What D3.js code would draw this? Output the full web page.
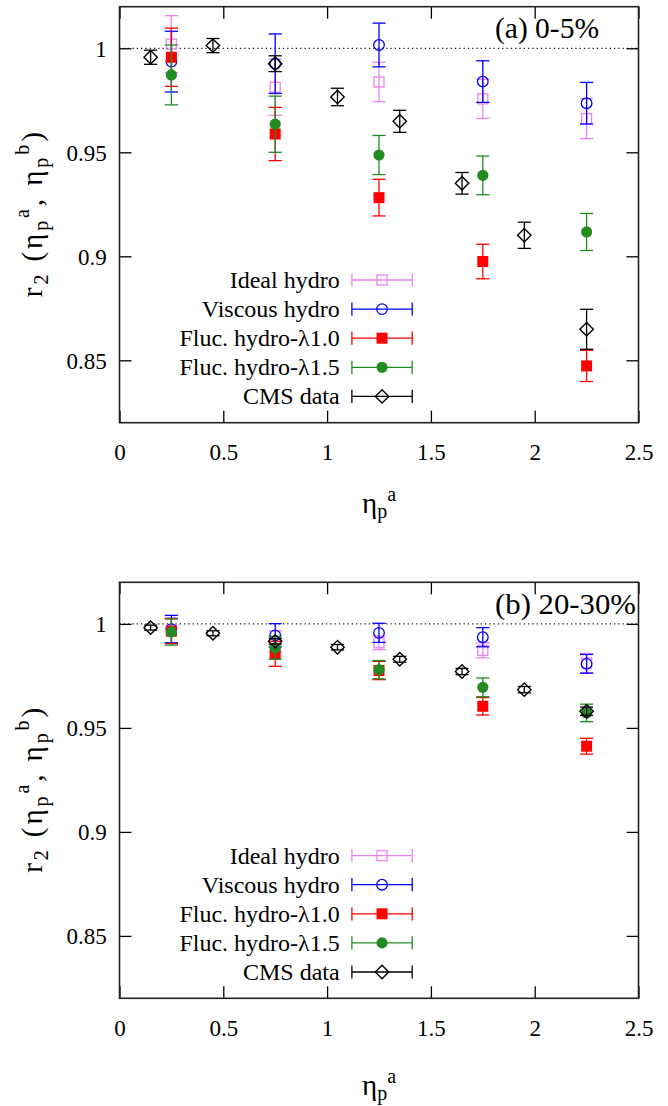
<!DOCTYPE html>
<html>
<head>
<meta charset="utf-8">
<script src="https://cdn.jsdelivr.net/npm/d3@7"></script>
<style>
  html, body { margin: 0; padding: 0; background: #fff; }
  svg { display: block; font-family: "Liberation Serif", "Times New Roman", serif; }
</style>
</head>
<body>
<svg id="chart" width="668" height="1106"></svg>
<script>
// ---------------- data ----------------
const etaModel = [0.25, 0.75, 1.25, 1.75, 2.25];
const etaCMS = [0.15, 0.45, 0.75, 1.05, 1.35, 1.65, 1.95, 2.25];

// panel (a) 0-5%
const idealA = [1.002, 0.9813, 0.9838, 0.9757, 0.9662];
const idealAErr = [0.0137, 0.0135, 0.0095, 0.0094, 0.0096];
const viscA = [0.9936, 0.9926, 1.0016, 0.984, 0.9736];
const viscAErr = [0.0146, 0.0143, 0.0105, 0.0100, 0.0100];
const fluc10A = [0.9957, 0.9588, 0.9282, 0.8975, 0.8473];
const fluc10AErr = [0.0140, 0.0128, 0.0088, 0.0083, 0.0075];
const fluc15A = [0.9872, 0.9635, 0.9487, 0.9389, 0.9117];
const fluc15AErr = [0.0144, 0.0135, 0.0094, 0.0093, 0.0089];
const cmsA = [0.9957, 1.0013, 0.9926, 0.9766, 0.9649, 0.9351, 0.9101, 0.8649];
const cmsAErr = [0.0034, 0.0034, 0.0038, 0.0042, 0.0053, 0.0052, 0.0063, 0.0096];

// panel (b) 20-30%
const idealB = [0.9970, 0.9916, 0.9909, 0.9873, 0.9812];
const idealBErr = [0.0060, 0.0050, 0.0033, 0.0036, 0.0046];
const viscB = [0.9975, 0.9945, 0.9957, 0.9936, 0.9808];
const viscBErr = [0.0066, 0.0056, 0.0046, 0.0046, 0.0045];
const fluc10B = [0.9965, 0.9856, 0.9776, 0.9604, 0.9412];
const fluc10BErr = [0.0060, 0.0060, 0.0044, 0.0042, 0.0038];
const fluc15B = [0.9961, 0.9885, 0.9780, 0.9695, 0.9572];
const fluc15BErr = [0.0063, 0.0055, 0.0044, 0.0045, 0.0042];
const cmsB = [0.9982, 0.9955, 0.9916, 0.9888, 0.9830, 0.9771, 0.9684, 0.9580];
const cmsBErr = [0.0012, 0.0012, 0.0013, 0.0013, 0.0014, 0.0015, 0.0015, 0.0020];

const seriesNames = ["Ideal hydro", "Viscous hydro", "Fluc. hydro-λ1.0", "Fluc. hydro-λ1.5", "CMS data"];
const panelTitles = ["(a) 0-5%", "(b) 20-30%"];
const xTicks = [0, 0.5, 1, 1.5, 2, 2.5];
const xTickLabels = ["0", "0.5", "1", "1.5", "2", "2.5"];
const yTicks = [0.85, 0.9, 0.95, 1];
const yTickLabels = ["0.85", "0.9", "0.95", "1"];

// ---------------- styles ----------------
const styles = [
  { color: "#ee82ee", sym: "sqOpen" },
  { color: "#0000ff", sym: "circOpen" },
  { color: "#ff0000", sym: "sqFill" },
  { color: "#228b22", sym: "circFill" },
  { color: "#000000", sym: "diamond" }
];

const panels = [
  { top: 6.7, title: panelTitles[0], titleLen: 104,
    series: [[etaModel, idealA, idealAErr], [etaModel, viscA, viscAErr], [etaModel, fluc10A, fluc10AErr], [etaModel, fluc15A, fluc15AErr], [etaCMS, cmsA, cmsAErr]],
    xlabelY: 513 },
  { top: 582.3, title: panelTitles[1], titleLen: 141,
    series: [[etaModel, idealB, idealBErr], [etaModel, viscB, viscBErr], [etaModel, fluc10B, fluc10BErr], [etaModel, fluc15B, fluc15BErr], [etaCMS, cmsB, cmsBErr]],
    xlabelY: 1095 }
];

const svg = d3.select("#chart");
const X0 = 119.5, X1 = 638.5, H = 416;
const x = d3.scaleLinear().domain([0, 2.5]).range([X0, X1]);

function drawMarker(g, sym, color, cx, cy) {
  if (sym === "sqOpen") {
    g.append("rect").attr("x", cx - 5).attr("y", cy - 5).attr("width", 10).attr("height", 10)
      .attr("fill", "none").attr("stroke", color).attr("stroke-width", 1.3);
  } else if (sym === "sqFill") {
    g.append("rect").attr("x", cx - 5.5).attr("y", cy - 5.5).attr("width", 11).attr("height", 11)
      .attr("fill", color);
  } else if (sym === "circOpen") {
    g.append("circle").attr("cx", cx).attr("cy", cy).attr("r", 5.3)
      .attr("fill", "none").attr("stroke", color).attr("stroke-width", 1.3);
  } else if (sym === "circFill") {
    g.append("circle").attr("cx", cx).attr("cy", cy).attr("r", 5.6).attr("fill", color);
  } else if (sym === "diamond") {
    const r = 6.7;
    g.append("path").attr("d", `M${cx},${cy - r}L${cx + r},${cy}L${cx},${cy + r}L${cx - r},${cy}Z`)
      .attr("fill", "none").attr("stroke", color).attr("stroke-width", 1.4);
  }
}

panels.forEach((p, pi) => {
  const top = p.top, bottom = p.top + H;
  const y = d3.scaleLinear().domain([0.82, 1.02]).range([bottom, top]);
  const g = svg.append("g");

  // dotted line at 1
  g.append("line").attr("x1", X0).attr("x2", X1).attr("y1", y(1)).attr("y2", y(1))
    .attr("stroke", "#222").attr("stroke-width", 1.3).attr("stroke-dasharray", "1.3,3");

  // axes
  const fmtX = d => xTickLabels[xTicks.indexOf(d)];
  const fmtY = d => yTickLabels[yTicks.indexOf(d)];
  const ax = g.append("g").attr("transform", `translate(0,${bottom})`)
    .call(d3.axisBottom(x).tickValues(xTicks).tickFormat(fmtX).tickSizeInner(-12).tickSizeOuter(0));
  ax.selectAll("text").attr("y", 37.3).attr("dy", 0).attr("font-size", 23)
    .attr("font-family", "Liberation Serif").attr("fill", "#000");
  g.append("g").attr("transform", `translate(0,${top})`)
    .call(d3.axisTop(x).tickValues(xTicks).tickFormat("").tickSizeInner(-12).tickSizeOuter(0));
  const ay = g.append("g").attr("transform", `translate(${X0},0)`)
    .call(d3.axisLeft(y).tickValues(yTicks).tickFormat(fmtY).tickSizeInner(-12).tickSizeOuter(0).tickPadding(12.8));
  ay.selectAll("text").attr("font-size", 23).attr("font-family", "Liberation Serif")
    .attr("dy", "0.34em").attr("fill", "#000");
  g.append("g").attr("transform", `translate(${X1},0)`)
    .call(d3.axisRight(y).tickValues(yTicks).tickFormat("").tickSizeInner(-12).tickSizeOuter(0));
  g.selectAll(".domain").remove();
  g.selectAll(".tick line").attr("stroke", "#000").attr("stroke-width", 1.3);

  // frame
  g.append("rect").attr("x", X0).attr("y", top).attr("width", X1 - X0).attr("height", H)
    .attr("fill", "none").attr("stroke", "#222").attr("stroke-width", 1.6);

  // title
  g.append("text").attr("x", 495).attr("y", top + 31.6).attr("font-size", 30)
    .attr("textLength", p.titleLen).attr("lengthAdjust", "spacingAndGlyphs")
    .text(p.title);

  // data
  p.series.forEach((s, si) => {
    const [xs, vs, es] = s;
    const st = styles[si];
    const sg = g.append("g");
    xs.forEach((xv, i) => {
      const cx = x(xv), v = vs[i], e = es[i];
      const y1 = y(v + e), y2 = y(v - e);
      sg.append("line").attr("x1", cx).attr("x2", cx).attr("y1", y1).attr("y2", y2)
        .attr("stroke", st.color).attr("stroke-width", 1.3);
      [y1, y2].forEach(yy => sg.append("line").attr("x1", cx - 6.6).attr("x2", cx + 6.6)
        .attr("y1", yy).attr("y2", yy).attr("stroke", st.color).attr("stroke-width", 1.3));
      drawMarker(sg, st.sym, st.color, cx, y(v));
    });
  });

  // legend
  const lg = g.append("g");
  seriesNames.forEach((name, i) => {
    const ly = top + 273.3 + i * 29.1;
    const st = styles[i];
    lg.append("text").attr("x", 339.7).attr("y", ly + 8).attr("text-anchor", "end")
      .attr("font-size", 24).text(name);
    const lx0 = 351.9, lx1 = 412.2;
    lg.append("line").attr("x1", lx0).attr("x2", lx1).attr("y1", ly).attr("y2", ly)
      .attr("stroke", st.color).attr("stroke-width", 1.3);
    [lx0, lx1].forEach(xx => lg.append("line").attr("x1", xx).attr("x2", xx)
      .attr("y1", ly - 6.6).attr("y2", ly + 6.6).attr("stroke", st.color).attr("stroke-width", 1.3));
    drawMarker(lg, st.sym, st.color, (lx0 + lx1) / 2, ly);
  });

  // y label
  const cy = (top + bottom) / 2;
  const yl = g.append("text").attr("transform", `translate(41.7,${cy}) rotate(-90)`)
    .attr("text-anchor", "middle").attr("font-size", 29)
    .attr("textLength", 165).attr("lengthAdjust", "spacing");
  yl.append("tspan").text("r");
  yl.append("tspan").attr("font-size", 20).attr("dy", 6).text("2");
  yl.append("tspan").attr("dy", -6).text(" (η");
  yl.append("tspan").attr("font-size", 20).attr("dy", 6).text("p");
  yl.append("tspan").attr("font-size", 20).attr("dy", -19).text("a");
  yl.append("tspan").attr("dy", 13).text(", η");
  yl.append("tspan").attr("font-size", 20).attr("dy", 6).text("p");
  yl.append("tspan").attr("font-size", 20).attr("dy", -19).text("b");
  yl.append("tspan").attr("dy", 13).text(")");

  // x label
  const xl = g.append("text").attr("x", (X0 + X1) / 2).attr("y", p.xlabelY)
    .attr("text-anchor", "middle").attr("font-size", 29);
  xl.append("tspan").text("η");
  xl.append("tspan").attr("font-size", 20).attr("dy", 5).text("p");
  xl.append("tspan").attr("font-size", 20).attr("dy", -17).text("a");
});
</script>
</body>
</html>
